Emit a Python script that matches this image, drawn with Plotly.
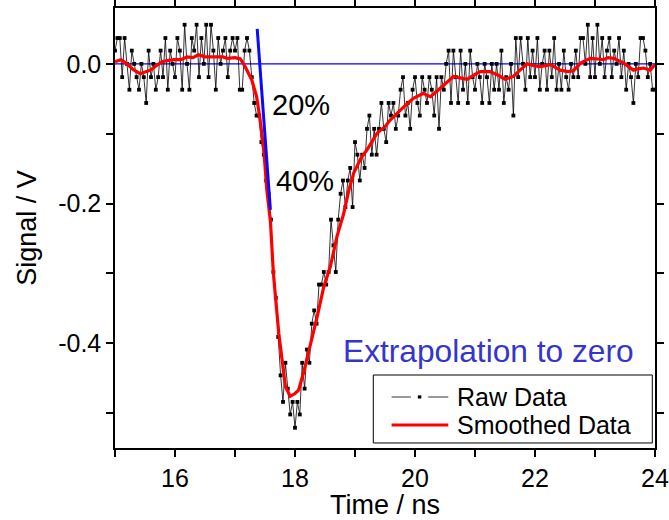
import plotly.graph_objects as go

# ---- data ----
raw_t_start = 15.0
raw_t_step = 0.04
raw_v = [
    0.019, 0.037, 0.037, -0.019, 0.037, 0.000, -0.037, 0.019, 0.000, -0.019,
    -0.037, 0.000, -0.019, -0.056, 0.019, -0.019, 0.000, -0.037, -0.019, 0.019,
    -0.019, 0.037, -0.037, 0.019, 0.000, -0.019, 0.037, 0.019, -0.037, 0.056,
    0.000, -0.037, 0.037, 0.019, 0.056, -0.019, 0.037, 0.000, 0.056, -0.019,
    0.056, 0.019, -0.037, 0.037, 0.000, 0.019, 0.037, -0.019, 0.019, 0.037,
    0.019, 0.037, -0.037, -0.037, 0.019, 0.037, 0.019, -0.019, -0.056, -0.074,
    -0.074, -0.112, -0.130, -0.167, -0.186, -0.223, -0.298, -0.335, -0.391, -0.446,
    -0.484, -0.428, -0.465, -0.502, -0.484, -0.521, -0.484, -0.502, -0.428, -0.465,
    -0.409, -0.428, -0.372, -0.353, -0.372, -0.316, -0.316, -0.298, -0.316, -0.298,
    -0.223, -0.260, -0.298, -0.223, -0.186, -0.167, -0.205, -0.167, -0.149, -0.205,
    -0.112, -0.130, -0.167, -0.130, -0.149, -0.093, -0.074, -0.130, -0.093, -0.130,
    -0.093, -0.056, -0.093, -0.112, -0.056, -0.074, -0.056, -0.093, -0.074, -0.037,
    -0.019, -0.074, -0.056, -0.093, -0.037, -0.019, -0.056, -0.074, -0.019, -0.037,
    -0.056, -0.019, -0.037, -0.074, -0.019, -0.093, -0.019, -0.037, 0.000, 0.019,
    -0.056, 0.019, -0.019, -0.056, 0.019, -0.037, 0.000, -0.056, 0.019, -0.019,
    -0.037, 0.000, -0.019, -0.056, 0.000, -0.019, -0.056, 0.000, -0.037, 0.000,
    -0.037, 0.019, -0.056, -0.019, -0.037, 0.000, -0.074, 0.037, -0.019, 0.037,
    0.000, -0.037, 0.037, -0.019, 0.019, -0.019, 0.037, -0.037, 0.000, 0.019,
    -0.037, 0.019, -0.019, 0.037, -0.037, 0.000, -0.037, 0.019, -0.019, -0.037,
    0.000, -0.019, 0.019, -0.019, 0.037, 0.037, 0.000, 0.056, -0.019, 0.037,
    -0.019, 0.056, 0.000, 0.037, -0.019, 0.019, 0.037, -0.019, 0.019, 0.000,
    0.037, -0.019, 0.019, -0.037, 0.000, -0.019, -0.056, 0.000, -0.019, 0.037,
    0.037, 0.019, -0.019, 0.000, -0.037, -0.037,
]
raw_t = [round(raw_t_start + raw_t_step * i, 4) for i in range(len(raw_v))]

smooth_t = [15.0, 15.1, 15.2, 15.3, 15.42, 15.5, 15.59, 15.7, 15.78, 15.9,
            15.98, 16.1, 16.2, 16.3, 16.39, 16.5, 16.59, 16.7, 16.8, 16.87,
            17.0, 17.09, 17.17, 17.28, 17.36, 17.41, 17.48, 17.53, 17.59, 17.64,
            17.73, 17.84, 17.92, 18.0, 18.06, 18.14, 18.25, 18.37, 18.48, 18.59,
            18.70, 18.81, 18.9, 18.98, 19.1, 19.2, 19.37, 19.5, 19.59, 19.75,
            19.87, 19.98, 20.14, 20.2, 20.26, 20.42, 20.55, 20.64, 20.75, 20.87,
            21.0, 21.09, 21.25, 21.38, 21.5, 21.64, 21.75, 21.87, 22.0, 22.09,
            22.26, 22.42, 22.55, 22.64, 22.76, 22.92, 23.05, 23.14, 23.22, 23.31,
            23.48, 23.64, 23.72, 23.81, 23.92, 24.0]
smooth_v = [0.003, 0.006, 0.000, -0.008, -0.014, -0.012, -0.009, -0.002, 0.003, 0.005,
            0.006, 0.006, 0.010, 0.009, 0.013, 0.010, 0.010, 0.009, 0.010, 0.008,
            0.009, 0.007, -0.004, -0.023, -0.047, -0.075, -0.123, -0.180, -0.225, -0.300,
            -0.386, -0.462, -0.476, -0.472, -0.467, -0.443, -0.405, -0.362, -0.319, -0.290,
            -0.247, -0.215, -0.180, -0.156, -0.135, -0.123, -0.099, -0.090, -0.080, -0.066,
            -0.057, -0.049, -0.042, -0.045, -0.047, -0.035, -0.025, -0.018, -0.020, -0.022,
            -0.015, -0.011, -0.011, -0.016, -0.022, -0.018, -0.009, 0.000, -0.003, -0.004,
            -0.001, -0.009, -0.011, -0.010, 0.001, 0.008, 0.007, 0.006, 0.009, 0.008,
            0.001, -0.009, -0.007, -0.006, -0.009, -0.001]

zero_t = [15.0, 24.0]
zero_v = [0.0, 0.0]

extrap_t = [17.37, 17.59]
extrap_v = [0.05, -0.209]

x_tickvals = [15, 16, 17, 18, 19, 20, 21, 22, 23, 24]
x_ticktext = ["", "16", "", "18", "", "20", "", "22", "", "24"]
y_tickvals = [0.0, -0.1, -0.2, -0.3, -0.4, -0.5]
y_ticktext = ["0.0", "", "-0.2", "", "-0.4", ""]

legend_labels = ["Raw Data", "Smoothed Data"]

FONT = "Liberation Sans, Arial, sans-serif"

fig = go.Figure()
fig.add_trace(go.Scatter(x=zero_t, y=zero_v, mode="lines",
                         line=dict(color="#0000ff", width=1.2),
                         showlegend=False, hoverinfo="skip"))
fig.add_trace(go.Scatter(x=raw_t, y=raw_v, mode="lines+markers", name=legend_labels[0],
                         line=dict(color="#000000", width=0.8),
                         marker=dict(symbol="square", size=3.8, color="#000000"),
                         showlegend=False))
fig.add_trace(go.Scatter(x=smooth_t, y=smooth_v, mode="lines", name=legend_labels[1],
                         line=dict(color="#ff0000", width=3.2), showlegend=False))
fig.add_trace(go.Scatter(x=extrap_t, y=extrap_v, mode="lines",
                         line=dict(color="#0a0aff", width=3),
                         showlegend=False, hoverinfo="skip"))

fig.add_annotation(x=17.58, y=-0.059, text="20%", showarrow=False,
                   xanchor="left", yanchor="middle",
                   font=dict(family=FONT, size=29, color="#000000"))
fig.add_annotation(x=17.65, y=-0.167, text="40%", showarrow=False,
                   xanchor="left", yanchor="middle",
                   font=dict(family=FONT, size=29, color="#000000"))
fig.add_annotation(x=18.77, y=-0.411, text="Extrapolation to zero", showarrow=False,
                   xanchor="left", yanchor="middle",
                   font=dict(family=FONT, size=31.7, color="#3535cc"))

# ---- legend box (drawn in paper coordinates) ----
fig.add_shape(type="rect", xref="paper", yref="paper",
              x0=0.4783, x1=0.9950, y0=0.0114, y1=0.1659,
              line=dict(color="#000000", width=1), fillcolor="#ffffff", layer="above")
# raw data sample: line - marker - line
fig.add_shape(type="line", xref="paper", yref="paper", x0=0.5122, x1=0.5480, y0=0.1159, y1=0.1159,
              line=dict(color="#000000", width=0.8), layer="above")
fig.add_shape(type="line", xref="paper", yref="paper", x0=0.5800, x1=0.6172, y0=0.1159, y1=0.1159,
              line=dict(color="#000000", width=0.8), layer="above")
fig.add_shape(type="rect", xref="paper", yref="paper", x0=0.5612, x1=0.5668, y0=0.1130, y1=0.1190,
              line=dict(color="#000000", width=0.5), fillcolor="#000000", layer="above")
# smoothed data sample
fig.add_shape(type="line", xref="paper", yref="paper", x0=0.5122, x1=0.6172, y0=0.0523, y1=0.0523,
              line=dict(color="#ff0000", width=3), layer="above")
fig.add_annotation(xref="paper", yref="paper", x=0.6300, y=0.1159, text=legend_labels[0],
                   showarrow=False, xanchor="left", yanchor="middle",
                   font=dict(family=FONT, size=25, color="#000000"))
fig.add_annotation(xref="paper", yref="paper", x=0.6300, y=0.0523, text=legend_labels[1],
                   showarrow=False, xanchor="left", yanchor="middle",
                   font=dict(family=FONT, size=25, color="#000000"))

axis_common = dict(showline=True, linecolor="#000000", linewidth=1.5, mirror="allticks",
                   ticks="outside", ticklen=7, tickwidth=1.5, tickcolor="#000000",
                   showgrid=False, zeroline=False, automargin=False,
                   tickfont=dict(family=FONT, size=25, color="#000000"))

fig.update_xaxes(range=[15, 24], tickvals=x_tickvals, ticktext=x_ticktext,
                 title=dict(text="Time / ns", font=dict(family=FONT, size=27, color="#000000"),
                            standoff=2),
                 **axis_common)
fig.update_yaxes(range=[-0.55, 0.08], tickvals=y_tickvals, ticktext=y_ticktext,
                 title=dict(text="Signal / V", font=dict(family=FONT, size=27, color="#000000"),
                            standoff=14),
                 **axis_common)

fig.update_layout(
    width=669, height=520,
    margin=dict(l=115, r=14, t=8, b=72),
    paper_bgcolor="#ffffff", plot_bgcolor="#ffffff",
    font=dict(family=FONT, color="#000000"),
    showlegend=False,
)

fig.write_html("out.html",
               config={"displayModeBar": False},
               post_script="document.body.style.margin='0px';document.body.style.padding='0px';")
